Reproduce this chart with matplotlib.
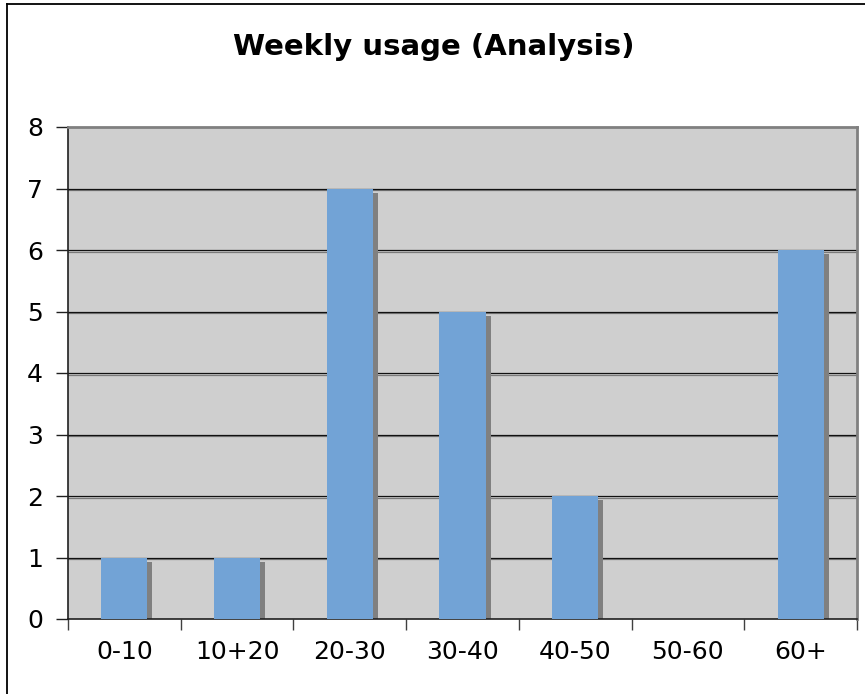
import numpy as np
import matplotlib.pyplot as plt
import matplotlib.patheffects as pe
from matplotlib.lines import Line2D

# data
categories = ["0-10", "10+20", "20-30", "30-40", "40-50", "50-60", "60+"]
usage = [1, 1, 7, 5, 2, 0, 6]
y_ticks = [0, 1, 2, 3, 4, 5, 6, 7, 8]

W, H = 865, 694
fig = plt.figure(figsize=(W / 100, H / 100), dpi=100)
ax = fig.add_axes([68 / W, 1 - 619 / H, (857 - 68) / W, (619 - 127) / H])
ax.set_facecolor("#cfcfcf")

x = np.arange(len(categories))
bar_w = 0.41
# shadow bars first, shifted right and down
sx = 5 / 112.7
sy = 4 / 61.5
heights = np.array(usage, dtype=float)
ax.bar(x + sx, heights, width=bar_w, bottom=-sy,
       color="#808080", zorder=2, linewidth=0)
ax.bar(x, usage, width=bar_w, color="#72a3d6", zorder=3, linewidth=0)

ax.set_xlim(-0.5, len(categories) - 0.5)
ax.set_ylim(0, 8)

# gridlines with a grey shadow like Excel
for yv in y_ticks[1:-1]:
    ax.axhline(yv, color="#111111", lw=0.9, zorder=1,
               path_effects=[pe.SimpleLineShadow(offset=(0, -1.4), shadow_color="#7a7a7a", alpha=1),
                             pe.Normal()])

ax.set_yticks(y_ticks)
ax.set_yticklabels([str(v) for v in y_ticks], fontsize=18)
ax.set_xticks(x)
ax.set_xticklabels(categories, fontsize=18)
ax.tick_params(axis="x", length=0, pad=15)
ax.set_xticks(np.arange(len(categories) + 1) - 0.5, minor=True)
ax.tick_params(axis="x", which="minor", length=8, width=1, color="#404040", direction="out")
ax.tick_params(axis="y", length=9, width=1, color="#202020", direction="out", pad=9)

for side in ["top", "right"]:
    ax.spines[side].set_color("#808080")
    ax.spines[side].set_linewidth(2)
ax.spines["left"].set_color("#202020")
ax.spines["bottom"].set_color("#202020")
ax.spines["left"].set_linewidth(1.2)
ax.spines["bottom"].set_linewidth(1.2)

fig.text(434 / W, 1 - 47 / H, "Weekly usage (Analysis)", fontsize=21, fontweight="bold",
         ha="center", va="center")

# outer chart border
fig.add_artist(Line2D([7.5 / W, 7.5 / W], [0, 1 - 3.5 / H], color="black", lw=1.3))
fig.add_artist(Line2D([7.5 / W, 1], [1 - 3.5 / H, 1 - 3.5 / H], color="black", lw=1.3))

fig.savefig("out.png", dpi=100)
